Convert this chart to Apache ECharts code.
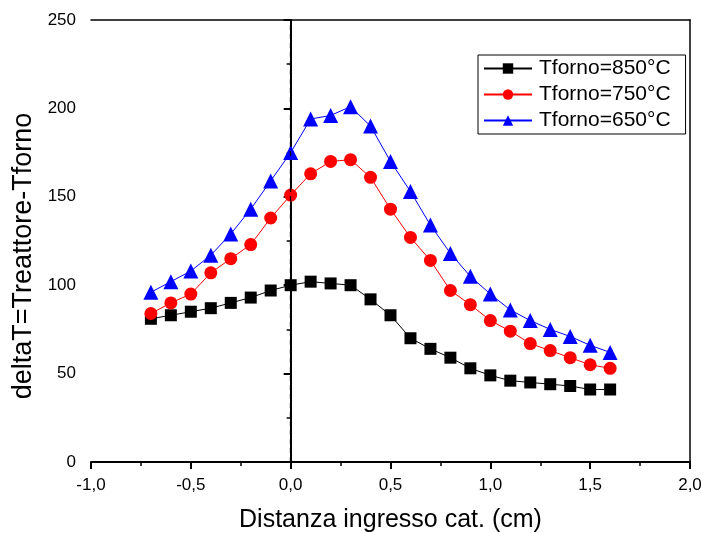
<!DOCTYPE html>
<html>
<head>
<meta charset="utf-8">
<script src="https://cdn.jsdelivr.net/npm/echarts@6/dist/echarts.min.js"></script>
<style>
  html, body { margin: 0; padding: 0; background: #fff; }
  #chart { width: 704px; height: 533px; }
</style>
</head>
<body>
<div id="chart"></div>
<script>
// Distance from catalyst inlet (cm)
const distanza = [-0.7, -0.6, -0.5, -0.4, -0.3, -0.2, -0.1, 0.0, 0.1, 0.2, 0.3, 0.4,
                  0.5, 0.6, 0.7, 0.8, 0.9, 1.0, 1.1, 1.2, 1.3, 1.4, 1.5, 1.6];

// deltaT = Treattore - Tforno for each furnace temperature
const t850 = [81, 83, 85, 87, 90, 93, 97, 100, 102, 101, 100, 92,
              83, 70, 64, 59, 53, 49, 46, 45, 44, 43, 41, 41];
const t750 = [84, 90, 95, 107, 115, 123, 138, 151, 163, 170, 171, 161,
              143, 127, 114, 97, 89, 80, 74, 67, 63, 59, 55, 53];
const t650 = [96, 102, 108, 117, 129, 143, 159, 175, 194, 196, 201, 190,
              170, 153, 134, 118, 105, 95, 86, 80, 75, 71, 66, 62];

const seriesNames = ['Tforno=850°C', 'Tforno=750°C', 'Tforno=650°C'];

const pairs = ys => distanza.map((x, i) => [x, ys[i]]);
const fmtComma = v => v.toFixed(1).replace('.', ',');

const FONT = 'Liberation Sans, Arial, sans-serif';

const chart = echarts.init(document.getElementById('chart'), null, { renderer: 'canvas' });

const option = {
  backgroundColor: '#fff',
  animation: false,
  grid: { left: 91, right: 14, top: 20, bottom: 71, show: false, containLabel: false, outerBoundsMode: 'none' },
  legend: {
    orient: 'vertical',
    left: 478,
    top: 55,
    padding: [3, 15, 3, 5],
    itemGap: 5,
    itemWidth: 48,
    itemHeight: 13,
    borderColor: '#000',
    borderWidth: 1,
    textStyle: { fontFamily: FONT, fontSize: 21, color: '#000', padding: [0, 0, 0, 2] },
    data: seriesNames
  },
  xAxis: [{
    type: 'value',
    min: -1, max: 2, interval: 0.5,
    axisLine: { show: true, lineStyle: { color: '#000', width: 2 } },
    axisTick: { show: true, inside: false, length: 7, lineStyle: { color: '#000', width: 2 } },
    minorTick: { show: true, splitNumber: 2, length: 4, lineStyle: { color: '#000', width: 1.5 } },
    splitLine: { show: false },
    axisLabel: { fontFamily: FONT, fontSize: 17, color: '#000', margin: 15, formatter: fmtComma },
    name: 'Distanza ingresso cat. (cm)',
    nameLocation: 'middle',
    nameGap: 46,
    nameTextStyle: { fontFamily: FONT, fontSize: 25, color: '#000' }
  }, {
    type: 'value', position: 'top',
    min: -1, max: 2, interval: 0.5,
    axisLine: { show: true, onZero: false, lineStyle: { color: '#000', width: 1.5 } },
    axisTick: { show: false }, axisLabel: { show: false }, splitLine: { show: false }
  }],
  yAxis: [{
    type: 'value',
    min: 0, max: 250, interval: 50,
    axisLine: { show: true, lineStyle: { color: '#000', width: 2 } },
    axisTick: { show: true, inside: false, length: 7, lineStyle: { color: '#000', width: 2 } },
    minorTick: { show: true, splitNumber: 2, length: 4, lineStyle: { color: '#000', width: 1.5 } },
    splitLine: { show: false },
    axisLabel: { fontFamily: FONT, fontSize: 17, color: '#000', margin: 15 },
    name: 'deltaT=Treattore-Tforno',
    nameLocation: 'middle',
    nameGap: 51,
    nameTextStyle: { fontFamily: FONT, fontSize: 27, color: '#000', padding: [0, 30, 0, 0] }
  }, {
    type: 'value', position: 'right',
    min: 0, max: 250, interval: 50,
    axisLine: { show: true, onZero: false, lineStyle: { color: '#000', width: 1.5 } },
    axisTick: { show: false }, axisLabel: { show: false }, splitLine: { show: false }
  }],
  series: [{
    name: seriesNames[0],
    type: 'line',
    data: pairs(t850),
    symbol: 'rect',
    symbolSize: 12,
    color: '#000',
    lineStyle: { width: 1, color: '#000' },
    itemStyle: { color: '#000' },
    markLine: {
      silent: true,
      symbol: 'none',
      label: { show: false },
      lineStyle: { color: '#000', type: [5, 4], width: 1.3 },
      data: [{ xAxis: 0 }]
    }
  }, {
    name: seriesNames[1],
    type: 'line',
    data: pairs(t750),
    symbol: 'circle',
    symbolSize: 13,
    color: '#ff0000',
    lineStyle: { width: 1, color: '#ff0000' },
    itemStyle: { color: '#ff0000' }
  }, {
    name: seriesNames[2],
    type: 'line',
    data: pairs(t650),
    symbol: 'triangle',
    symbolSize: 15,
    color: '#0000ff',
    lineStyle: { width: 1, color: '#0000ff' },
    itemStyle: { color: '#0000ff' }
  }]
};

chart.setOption(option);
</script>
</body>
</html>
